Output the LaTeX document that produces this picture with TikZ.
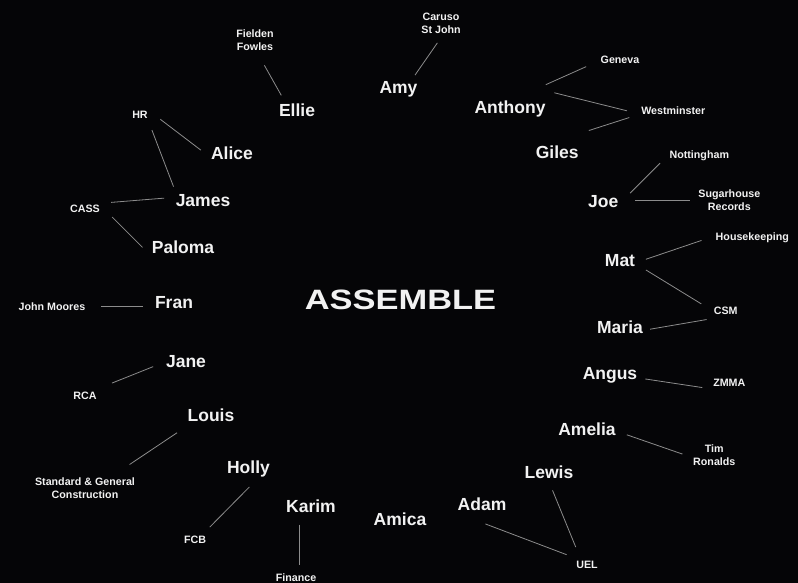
\documentclass[tikz,border=0pt]{standalone}
\usepackage{fontspec}
\setmainfont{Liberation Sans}
\definecolor{BgBlack}{HTML}{050507}
\definecolor{InkWhite}{HTML}{F2F2F2}
\definecolor{LinkGrey}{HTML}{8C8C8C}
\newcommand{\namefont}{\fontsize{17.5}{20}\selectfont\bfseries}
\newcommand{\placefont}{\fontsize{10.7}{13}\selectfont\bfseries}
\newcommand{\titlefont}{\fontsize{28}{32}\selectfont\bfseries}
\tikzset{
  namebox/.style={text=InkWhite, font=\namefont, inner sep=2pt},
  placebox/.style={text=InkWhite, font=\placefont, inner sep=2pt, align=center},
  titlebox/.style={text=InkWhite, font=\titlefont, inner sep=2pt},
  link/.style={draw=LinkGrey, line width=0.8pt}
}

\begin{document}
\begin{tikzpicture}[x=1pt, y=-1pt]
    \fill[BgBlack] (0,0) rectangle (798,583);
    \useasboundingbox (0,0) rectangle (798,583);

    \node[titlebox] (title) at (400.5,300) {\scalebox{1.23}[1]{ASSEMBLE}};

    % people
    \node[namebox] (amy) at (398.5,89) {Amy};
    \node[namebox] (ellie) at (297,110) {Ellie};
    \node[namebox] (alice) at (232,153) {Alice};
    \node[namebox] (james) at (203,201) {James};
    \node[namebox] (paloma) at (183,247.5) {Paloma};
    \node[namebox] (fran) at (174,303) {Fran};
    \node[namebox] (jane) at (186,362) {Jane};
    \node[namebox] (louis) at (211,415) {Louis};
    \node[namebox] (holly) at (248.5,469) {Holly};
    \node[namebox] (karim) at (311,506) {Karim};
    \node[namebox] (amica) at (400,519) {Amica};
    \node[namebox] (adam) at (482,504) {Adam};
    \node[namebox] (lewis) at (549,472) {Lewis};
    \node[namebox] (amelia) at (587,429) {Amelia};
    \node[namebox] (angus) at (610,375.5) {Angus};
    \node[namebox] (maria) at (620,327) {Maria};
    \node[namebox] (mat) at (620,261) {Mat};
    \node[namebox] (joe) at (603.3,201.7) {Joe};
    \node[namebox] (giles) at (557.2,152) {Giles};
    \node[namebox] (anthony) at (510,108.5) {Anthony};

    % places
    \node[placebox] (caruso) at (441,23) {Caruso\\St John};
    \node[placebox] (fielden) at (255,40) {Fielden\\Fowles};
    \node[placebox] (hr) at (140,115) {HR};
    \node[placebox] (cass) at (85,209) {CASS};
    \node[placebox] (moores) at (52,306.5) {John Moores};
    \node[placebox] (rca) at (85,396) {RCA};
    \node[placebox] (sgc) at (85,488) {Standard \& General\\Construction};
    \node[placebox] (fcb) at (195,540) {FCB};
    \node[placebox] (finance) at (296,578) {Finance};
    \node[placebox] (uel) at (587,565) {UEL};
    \node[placebox] (ronalds) at (714.3,455) {Tim\\Ronalds};
    \node[placebox] (zmma) at (729.3,383.3) {ZMMA};
    \node[placebox] (csm) at (725.7,310.7) {CSM};
    \node[placebox] (housekeeping) at (752.3,237.7) {Housekeeping};
    \node[placebox] (sugarhouse) at (729.3,200) {Sugarhouse\\Records};
    \node[placebox] (nottingham) at (699.3,155.3) {Nottingham};
    \node[placebox] (westminster) at (673.3,110.8) {Westminster};
    \node[placebox] (geneva) at (620,60) {Geneva};

    % links
    \draw[link, shorten <=9pt, shorten >=4.7pt] (caruso.-83) -- (amy.36);
    \draw[link, shorten <=14.6pt, shorten >=6.9pt] (fielden.-80) -- (ellie.145);
    \draw[link, shorten <=13pt, shorten >=10.1pt] (hr.20) -- (alice.188);
    \draw[link, shorten <=9.9pt, shorten >=6.5pt] (hr.-35) -- (james.163);
    \draw[link, shorten <=9.1pt, shorten >=9.5pt] (cass.19) -- (james.173);
    \draw[link, shorten <=2.9pt, shorten >=10.1pt] ([xshift=8pt]cass.south east) -- (paloma.192);
    \draw[link, shorten <=14pt, shorten >=10pt] (moores.east) -- (moores.east -| fran.west);
    \draw[link, shorten <=11.5pt, shorten >=18.7pt] (jane.181) -- (rca.32);
    \draw[link, shorten <=16.4pt, shorten >=19.5pt] (louis.203) -- (sgc.24);
    \draw[link, shorten <=10.7pt, shorten >=9.7pt] (holly.-51) -- (fcb.37);
    \draw[link, shorten <=10pt, shorten >=7.2pt] (karim.217) -- (karim.217 |- finance.north);
    \draw[link, shorten <=32pt, shorten >=12.4pt] (adam.south west) -- (uel.146);
    \draw[link, shorten <=10.5pt, shorten >=12.9pt] (lewis.-93) -- (uel.137);
    \draw[link, shorten <=9.5pt, shorten >=9.1pt] (amelia.-5) -- (ronalds.185);
    \draw[link, shorten <=5.9pt, shorten >=8.9pt] (angus.-5) -- (zmma.197);
    \draw[link, shorten <=5.2pt, shorten >=16.9pt] (maria.-7) -- (csm.248);
    \draw[link, shorten <=10.1pt, shorten >=12.1pt] (mat.-12) -- (csm.178);
    \draw[link, shorten <=9.1pt, shorten >=12.7pt] (mat.-4) -- (housekeeping.178);
    \draw[link, shorten <=14.6pt, shorten >=6.2pt] (joe.east |- sugarhouse.west) -- (sugarhouse.west);
    \draw[link, shorten <=13.4pt, shorten >=10.3pt] (joe.-3) -- (nottingham.181);
    \draw[link, shorten <=32.9pt, shorten >=13.5pt] (anthony.61) -- (geneva.183);
    \draw[link, shorten <=6.9pt, shorten >=12.5pt] ([yshift=7pt]anthony.north east) -- (westminster.185);
    \draw[link, shorten <=42pt, shorten >=10.3pt] (giles.134) -- (westminster.186);
\end{tikzpicture}
\end{document}
